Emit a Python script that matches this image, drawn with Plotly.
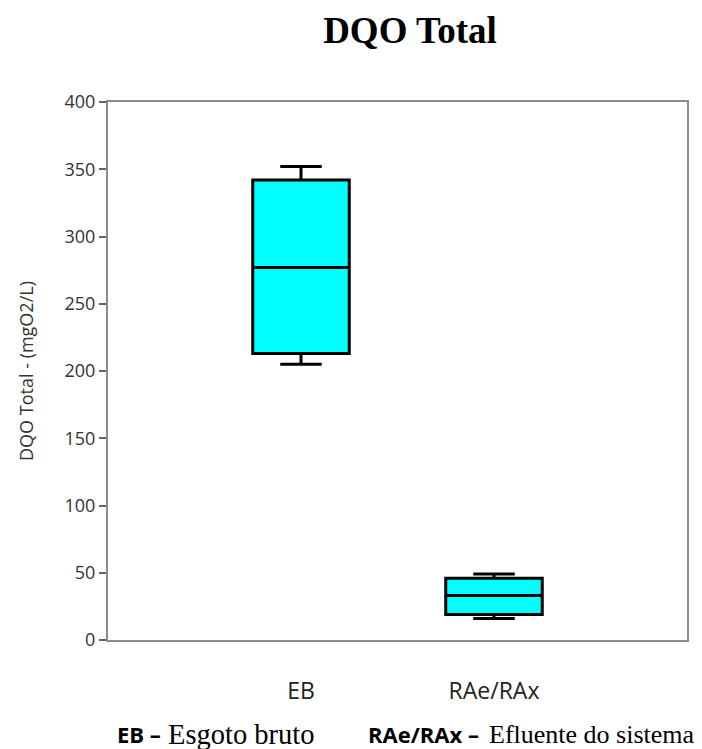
import plotly.graph_objects as go

categories = ["EB", "RAe/RAx"]
lower = [205, 16]
q1 = [213, 19]
median = [277, 33]
q3 = [342, 46]
upper = [352, 49]
y_ticks = [0, 50, 100, 150, 200, 250, 300, 350, 400]

# page has an 8px body margin; lay out in page pixels and compensate
OFF = 8
PW, PH = 702, 749
W, H = PW - OFF, PH - OFF
PL, PR, PT, PB = 108, 687, 102, 640  # plot frame in page pixels
L, T = PL - OFF, PT - OFF
R = W - (PR - OFF)
B = H - (PB - OFF)
pw = PR - PL
ph = PB - PT

def px(x):
    return (x - PL) / pw

def py(y):
    return (PB - y) / ph

fig = go.Figure()
fig.add_trace(go.Box(
    x=categories, q1=q1, median=median, q3=q3,
    lowerfence=lower, upperfence=upper,
    fillcolor="#00FFFF", line=dict(color="black", width=3),
    width=0.5, whiskerwidth=0.43, boxpoints=False, hoverinfo="skip",
))

fig.update_layout(
    width=W, height=H,
    margin=dict(l=L, r=R, t=T, b=B),
    paper_bgcolor="white", plot_bgcolor="white",
    showlegend=False,
    title=dict(text="<b>DQO Total</b>", x=px(410), xref="paper", xanchor="center",
               y=1 - (30 - OFF) / H, yref="container", yanchor="middle",
               font=dict(family="Liberation Serif", size=37, color="black")),
    xaxis=dict(type="category", range=[-1, 2], showline=True, mirror=True,
               linecolor="#8c8c8c", linewidth=2, ticks="", showgrid=False,
               ticklabelstandoff=29,
               tickfont=dict(family="Open Sans", size=23, color="#222")),
    yaxis=dict(range=[0, 400], tickvals=y_ticks, showline=True, mirror=True,
               linecolor="#8c8c8c", linewidth=2, ticks="outside", ticklen=7,
               tickcolor="#666", tickwidth=2, showgrid=False, zeroline=False,
               tickfont=dict(family="Open Sans", size=18, color="#333"),
               title=dict(text="DQO Total - (mgO2/L)", standoff=26,
                          font=dict(family="Open Sans", size=18, color="#333"))),
)

ann_y = py(734)
fig.add_annotation(text="<b>EB –</b>", x=px(163), y=ann_y, xref="paper", yref="paper",
                   xanchor="right", yanchor="middle", showarrow=False,
                   font=dict(family="Open Sans", size=22, color="black"))
fig.add_annotation(text="Esgoto bruto", x=px(166), y=ann_y, xref="paper", yref="paper",
                   xanchor="left", yanchor="middle", showarrow=False,
                   font=dict(family="Liberation Serif", size=28.5, color="black"))
fig.add_annotation(text="<b>RAe/RAx –</b>", x=px(481), y=ann_y, xref="paper", yref="paper",
                   xanchor="right", yanchor="middle", showarrow=False,
                   font=dict(family="Open Sans", size=22, color="black"))
fig.add_annotation(text="Efluente do sistema", x=px(487), y=ann_y, xref="paper", yref="paper",
                   xanchor="left", yanchor="middle", showarrow=False,
                   font=dict(family="Liberation Serif", size=26, color="black"))

fig.write_html("out.html")
